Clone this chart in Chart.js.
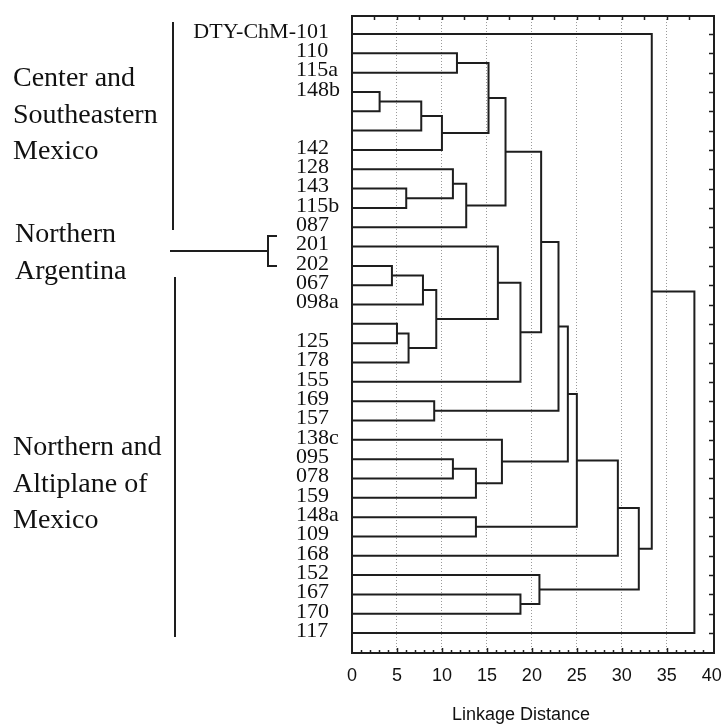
<!DOCTYPE html>
<html>
<head>
<meta charset="utf-8">
<script src="https://cdn.jsdelivr.net/npm/chart.js@4.4.1/dist/chart.umd.min.js"></script>
<style>
  html, body { margin: 0; padding: 0; background: #fff; }
  canvas { display: block; }
</style>
</head>
<body>
<canvas id="dendro" width="722" height="726"></canvas>
<script>
// leaves, top to bottom (empty strings = unlabelled accessions)
const leafLabels = ['DTY-ChM-101', '110', '115a', '148b', '', '', '142', '128', '143', '115b', '087',
    '201', '202', '067', '098a', '', '125', '178', '155', '169', '157', '138c', '095', '078', '159',
    '148a', '109', '168', '152', '167', '170', '117'];

// joins: leaves are 0..31, each join gets the next id (32, 33, ...)
const mergeLeft   = [3, 12, 15, 8, 34, 32, 33, 19, 38, 37, 7, 22, 1, 42, 43, 25, 44, 11, 21, 48, 49, 29, 28, 51, 55, 56, 57, 58, 59, 0, 61];
const mergeRight  = [4, 13, 16, 9, 17, 5, 14, 20, 36, 6, 35, 23, 2, 10, 24, 26, 41, 40, 46, 45, 18, 30, 53, 52, 39, 50, 47, 27, 54, 60, 31];
const mergeHeight = [3.07, 4.44, 5.0, 6.03, 6.29, 7.7, 7.89, 9.14, 9.37, 10.0, 11.22, 11.22, 11.67, 12.7, 13.78, 13.78,
    15.18, 16.22, 16.67, 17.07, 18.73, 18.73, 20.84, 21.03, 22.96, 24.0, 25.0, 29.56, 31.89, 33.33, 38.07];

const xTickValues = [0, 5, 10, 15, 20, 25, 30, 35, 40];
const axisTitle = 'Linkage Distance';

// regional groups shown at the left
const groupNames = [
    ['Center and', 'Southeastern', 'Mexico'],
    ['Northern', 'Argentina'],
    ['Northern and', 'Altiplane of', 'Mexico']
];

const LINE = '#1e1e1e';

// build one elbow per join: child -> height -> other child
const nodeX = leafLabels.map(() => 0);
const nodeY = leafLabels.map((_, i) => i + 1);
const datasets = [];
mergeHeight.forEach((h, k) => {
    const a = mergeLeft[k];
    const b = mergeRight[k];
    datasets.push({
        data: [
            { x: nodeX[a], y: nodeY[a] },
            { x: h, y: nodeY[a] },
            { x: h, y: nodeY[b] },
            { x: nodeX[b], y: nodeY[b] }
        ],
        showLine: true,
        borderColor: LINE,
        borderWidth: 2,
        pointRadius: 0,
        tension: 0,
        fill: false
    });
    nodeX.push(h);
    nodeY.push((nodeY[a] + nodeY[b]) / 2);
});

function line(ctx, x1, y1, x2, y2) {
    ctx.beginPath();
    ctx.moveTo(x1, y1);
    ctx.lineTo(x2, y2);
    ctx.stroke();
}

const decorations = {
    id: 'decorations',
    afterDraw(chart) {
        const ctx = chart.ctx;
        const area = chart.chartArea;
        const xs = chart.scales.x;
        const ys = chart.scales.y;
        ctx.save();

        // frame
        ctx.strokeStyle = LINE;
        ctx.lineWidth = 2;
        ctx.strokeRect(area.left, area.top, area.right - area.left, area.bottom - area.top);

        // inner tick marks
        ctx.lineWidth = 1.5;
        for (let v = 2.5; v < 40; v += 2.5) {
            const px = Math.round(xs.getPixelForValue(v)) + 0.5;
            line(ctx, px, area.top, px, area.top + 4);
        }
        for (let v = 1; v < 40; v++) {
            const px = Math.round(xs.getPixelForValue(v)) + 0.5;
            const len = v % 5 === 0 ? 5 : 3;
            line(ctx, px, area.bottom, px, area.bottom - len);
        }
        leafLabels.forEach((_, i) => {
            const py = Math.round(ys.getPixelForValue(i + 1)) + 0.5;
            line(ctx, area.right, py, area.right - 5, py);
        });

        // leaf labels, digits lined up on one column
        ctx.fillStyle = '#111';
        ctx.font = '22px "Liberation Serif", "Times New Roman", serif';
        ctx.textBaseline = 'middle';
        ctx.textAlign = 'left';
        const col = 296;
        leafLabels.forEach((lab, i) => {
            if (!lab) return;
            const m = lab.match(/^(.*?)(\d.*)$/);
            const prefix = m ? m[1] : '';
            const x = col - ctx.measureText(prefix).width;
            ctx.fillText(lab, x, ys.getPixelForValue(i + 1) - 2);
        });

        // group names
        ctx.font = '28px "Liberation Serif", "Times New Roman", serif';
        ctx.textBaseline = 'alphabetic';
        const groupPos = [[13, 86], [15, 242], [13, 455]];
        groupNames.forEach((lines, g) => {
            lines.forEach((t, j) => ctx.fillText(t, groupPos[g][0], groupPos[g][1] + j * 36.5));
        });

        // brackets
        ctx.lineWidth = 2;
        line(ctx, 173, 22, 173, 230);
        line(ctx, 170, 251, 268, 251);
        ctx.beginPath();
        ctx.moveTo(277, 236);
        ctx.lineTo(268, 236);
        ctx.lineTo(268, 266);
        ctx.lineTo(277, 266);
        ctx.stroke();
        line(ctx, 175, 277, 175, 637);

        // axis title, sits a little left of the plot centre
        ctx.font = '18px "Liberation Sans", Arial, sans-serif';
        ctx.textAlign = 'center';
        ctx.textBaseline = 'middle';
        ctx.fillText(axisTitle, 521, 715);

        ctx.restore();
    }
};

new Chart(document.getElementById('dendro'), {
    type: 'scatter',
    data: { datasets: datasets },
    options: {
        responsive: false,
        devicePixelRatio: 1,
        animation: false,
        layout: { padding: { left: 352, right: 8, top: 16, bottom: 0 } },
        plugins: {
            legend: { display: false },
            tooltip: { enabled: false }
        },
        scales: {
            x: {
                type: 'linear',
                position: 'bottom',
                min: 0,
                max: 40.25,
                afterBuildTicks: (scale) => {
                    scale.ticks = xTickValues.map(v => ({ value: v }));
                },
                afterFit: (scale) => {
                    scale.height = 73;
                    scale.paddingLeft = 0;
                    scale.paddingRight = 0;
                },
                border: { display: false, dash: [1, 2] },
                grid: {
                    drawTicks: false,
                    lineWidth: 1,
                    color: (c) => (c.tick && (c.tick.value === 0 || c.tick.value === 40)) ? 'rgba(0,0,0,0)' : '#9a9a9a'
                },
                ticks: {
                    padding: 12,
                    color: '#111',
                    font: { family: '"Liberation Sans", Arial, sans-serif', size: 18 },
                    callback: (v) => String(v)
                }
            },
            y: {
                type: 'linear',
                display: false,
                reverse: true,
                min: 0.07,
                max: 33.03
            }
        }
    },
    plugins: [decorations]
});
</script>
</body>
</html>
